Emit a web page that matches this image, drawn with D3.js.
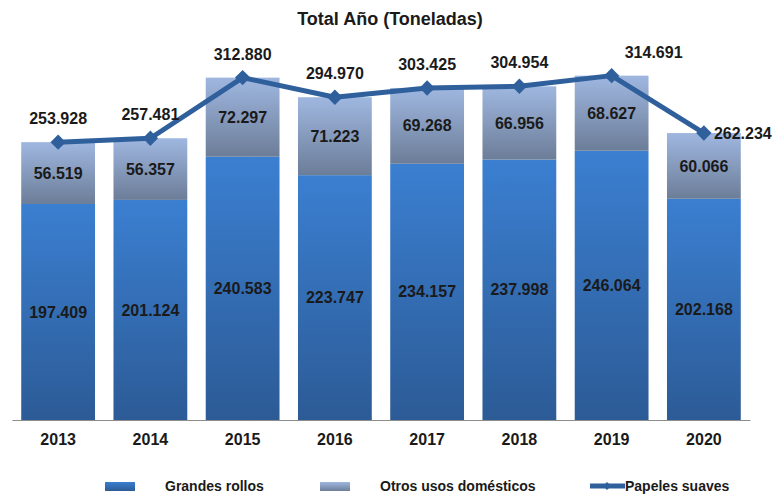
<!DOCTYPE html>
<html>
<head>
<meta charset="utf-8">
<script src="https://cdn.jsdelivr.net/npm/d3@7"></script>
<style>
  body { margin: 0; background: #fff; }
  svg { display: block; }
</style>
</head>
<body>
<div id="chart"></div>
<script>
// data (toneladas)
const years = ["2013", "2014", "2015", "2016", "2017", "2018", "2019", "2020"];
const grandesRollos = [197409, 201124, 240583, 223747, 234157, 237998, 246064, 202168];
const otrosUsos = [56519, 56357, 72297, 71223, 69268, 66956, 68627, 60066];
const papelesSuaves = [253928, 257481, 312880, 294970, 303425, 304954, 314691, 262234];

const W = 777, H = 495;
const fmt = v => d3.format(",")(v).replace(/,/g, ".");
const font = "'Liberation Sans', Arial, sans-serif";

const svg = d3.select("#chart").append("svg")
  .attr("width", W)
  .attr("height", H);

const defs = svg.append("defs");
const g1 = defs.append("linearGradient").attr("id", "gBottom")
  .attr("x1", 0).attr("y1", 0).attr("x2", 0).attr("y2", 1);
g1.append("stop").attr("offset", "0%").attr("stop-color", "#3b7fd1");
g1.append("stop").attr("offset", "100%").attr("stop-color", "#2c5b96");
const g2 = defs.append("linearGradient").attr("id", "gTop")
  .attr("x1", 0).attr("y1", 0).attr("x2", 0).attr("y2", 1);
g2.append("stop").attr("offset", "0%").attr("stop-color", "#9fb7e0");
g2.append("stop").attr("offset", "100%").attr("stop-color", "#6c7d98");

const x = d3.scaleBand()
  .domain(years)
  .range([12, 750])
  .paddingInner(0.2)
  .paddingOuter(0.1);

const y = d3.scaleLinear()
  .domain([0, 350000])
  .range([420, 37]);

// title
svg.append("text")
  .attr("x", 390).attr("y", 25)
  .attr("text-anchor", "middle")
  .attr("font-family", font)
  .attr("font-weight", "bold")
  .attr("font-size", "18px")
  .attr("fill", "#1a1a1a")
  .text("Total Año (Toneladas)");

const rows = years.map((yr, i) => ({
  yr, a: grandesRollos[i], b: otrosUsos[i], t: papelesSuaves[i]
}));

// bottom segment
svg.selectAll(".barA").data(rows).enter().append("rect")
  .attr("class", "barA")
  .attr("x", d => x(d.yr))
  .attr("width", x.bandwidth())
  .attr("y", d => y(d.a))
  .attr("height", d => y(0) - y(d.a))
  .attr("fill", "url(#gBottom)");

// top segment
svg.selectAll(".barB").data(rows).enter().append("rect")
  .attr("class", "barB")
  .attr("x", d => x(d.yr))
  .attr("width", x.bandwidth())
  .attr("y", d => y(d.a + d.b))
  .attr("height", d => y(d.a) - y(d.a + d.b))
  .attr("fill", "url(#gTop)");

// x axis
const xAxis = svg.append("g")
  .attr("transform", "translate(0,420)")
  .call(d3.axisBottom(x).tickSize(0).tickPadding(14));
xAxis.select(".domain").attr("stroke", "#8c8c8c").attr("stroke-width", 1.2);
xAxis.selectAll("text")
  .attr("font-family", font)
  .attr("font-weight", "bold")
  .attr("font-size", "16px")
  .attr("fill", "#1a1a1a");

// segment labels
svg.selectAll(".labA").data(rows).enter().append("text")
  .attr("x", d => x(d.yr) + x.bandwidth() / 2)
  .attr("y", d => (y(d.a) + y(0)) / 2)
  .attr("dy", "0.35em")
  .attr("text-anchor", "middle")
  .attr("font-family", font)
  .attr("font-weight", "bold")
  .attr("font-size", "16px")
  .attr("fill", "#1a1a1a")
  .text(d => fmt(d.a));

svg.selectAll(".labB").data(rows).enter().append("text")
  .attr("x", d => x(d.yr) + x.bandwidth() / 2)
  .attr("y", d => (y(d.a) + y(d.a + d.b)) / 2)
  .attr("dy", "0.35em")
  .attr("text-anchor", "middle")
  .attr("font-family", font)
  .attr("font-weight", "bold")
  .attr("font-size", "16px")
  .attr("fill", "#1a1a1a")
  .text(d => fmt(d.b));

// line
const cx = yr => x(yr) + x.bandwidth() / 2;
const line = d3.line()
  .x(d => cx(d.yr))
  .y(d => y(d.t));

svg.append("path")
  .datum(rows)
  .attr("d", line)
  .attr("fill", "none")
  .attr("stroke", "#2f609c")
  .attr("stroke-width", 5)
  .attr("stroke-linejoin", "round");

svg.selectAll(".pt").data(rows).enter().append("path")
  .attr("d", d3.symbol().type(d3.symbolDiamond2).size(150))
  .attr("transform", d => `translate(${cx(d.yr)},${y(d.t)})`)
  .attr("fill", "#2f609c");

svg.selectAll(".labT").data(rows).enter().append("text")
  .attr("x", (d, i) => i === rows.length - 1 ? cx(d.yr) + 10 : cx(d.yr) + (i === 6 ? 42 : 0))
  .attr("y", (d, i) => i === rows.length - 1 ? y(d.t) : y(d.t) - 18)
  .attr("dy", (d, i) => i === rows.length - 1 ? "0.35em" : "0")
  .attr("text-anchor", (d, i) => i === rows.length - 1 ? "start" : "middle")
  .attr("font-family", font)
  .attr("font-weight", "bold")
  .attr("font-size", "16px")
  .attr("fill", "#1a1a1a")
  .text(d => fmt(d.t));

// legend
const leg = svg.append("g").attr("font-family", font).attr("font-size", "14px").attr("fill", "#1a1a1a");
leg.append("rect").attr("x", 105).attr("y", 482).attr("width", 30).attr("height", 9).attr("fill", "url(#gBottom)");
leg.append("text").attr("x", 165).attr("y", 491).attr("font-weight", "bold").text("Grandes rollos");
leg.append("rect").attr("x", 320).attr("y", 482).attr("width", 30).attr("height", 9).attr("fill", "url(#gTop)");
leg.append("text").attr("x", 380).attr("y", 491).attr("font-weight", "bold").text("Otros usos domésticos");
leg.append("line").attr("x1", 590).attr("x2", 625).attr("y1", 486).attr("y2", 486)
  .attr("stroke", "#2f609c").attr("stroke-width", 5);
leg.append("path").attr("d", d3.symbol().type(d3.symbolDiamond2).size(40))
  .attr("transform", "translate(607,486)").attr("fill", "#2f609c");
leg.append("text").attr("x", 625).attr("y", 491).attr("font-weight", "bold").text("Papeles suaves");
</script>
</body>
</html>
